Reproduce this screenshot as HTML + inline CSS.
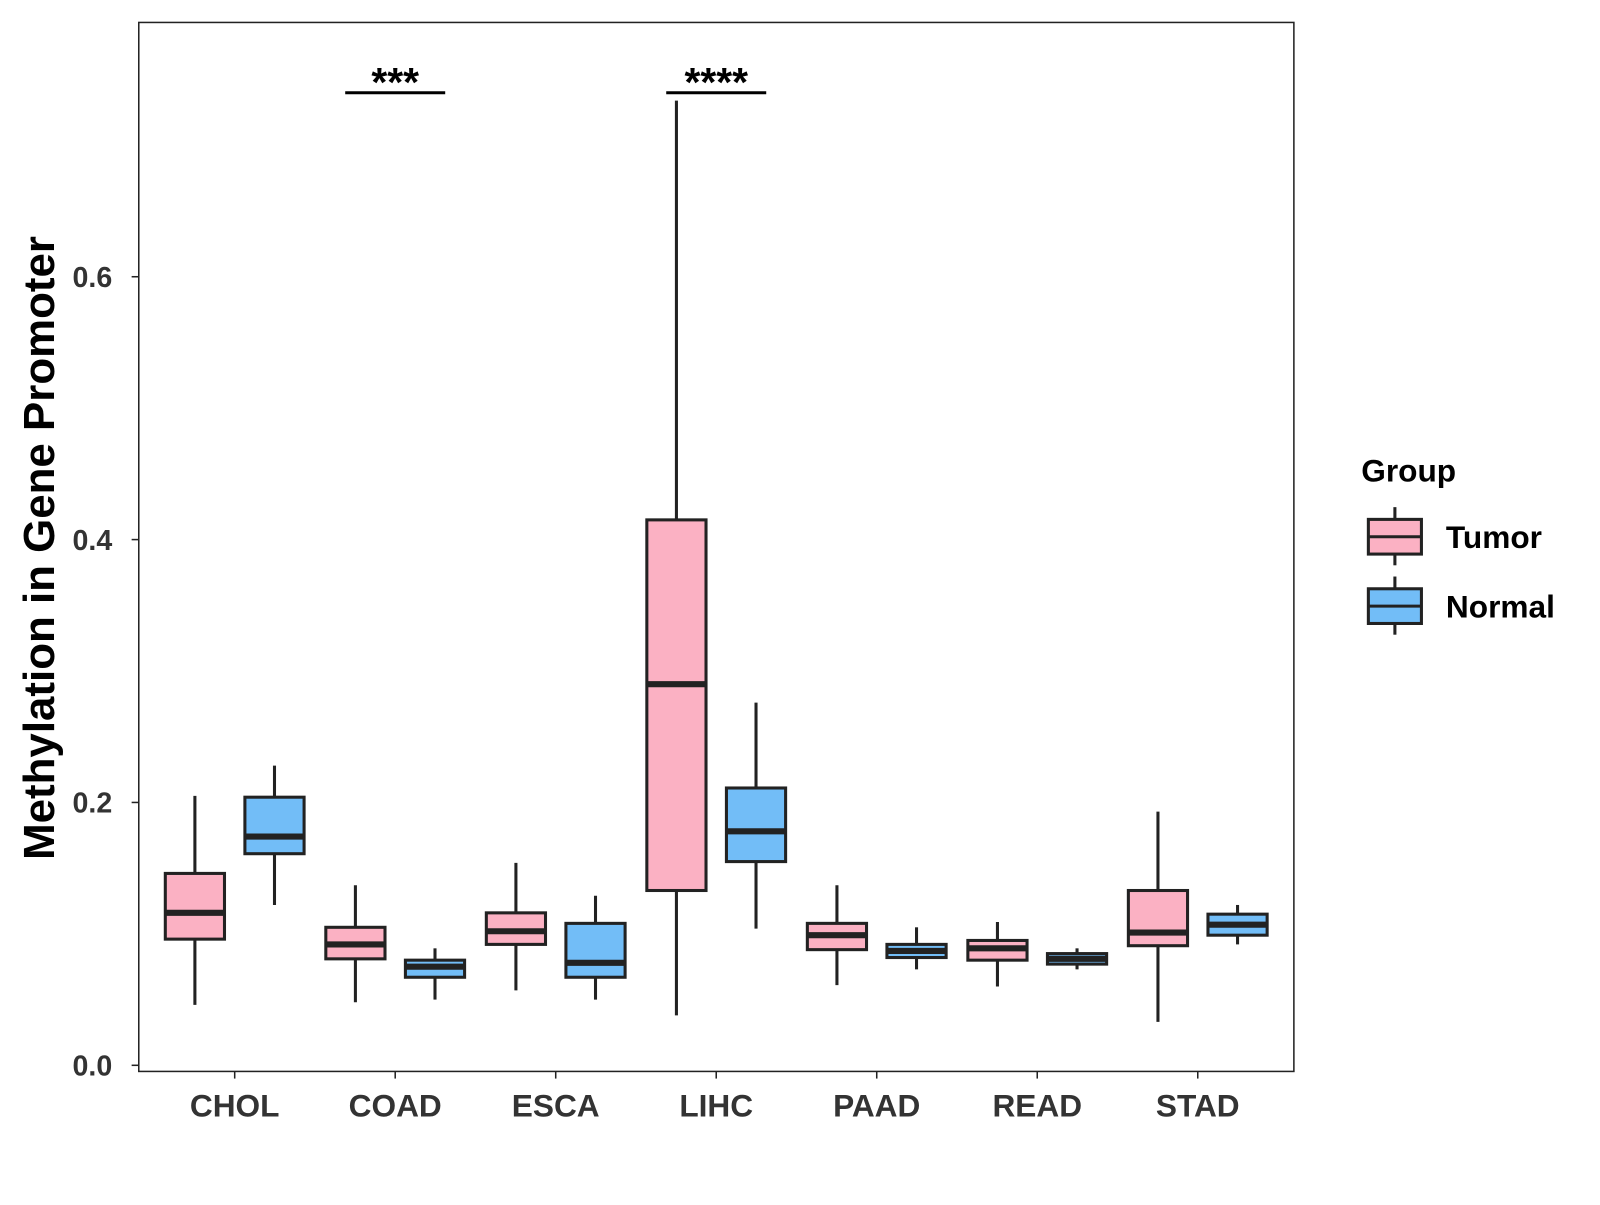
<!DOCTYPE html>
<html><head><meta charset="utf-8"><style>
body{margin:0;background:#fff;}
svg text{font-family:"Liberation Sans",sans-serif;font-weight:bold;}
</style></head><body>
<svg width="1600" height="1200" viewBox="0 0 1568 1176" xmlns="http://www.w3.org/2000/svg">
<rect x="136" y="22" width="1132" height="1028" fill="#fff" stroke="#222" stroke-width="1.5"/>
<g id="axes"></g><g id="marks"></g>
<text x="0" y="0" transform="translate(53,537) rotate(-90)" text-anchor="middle" font-size="43" fill="#000">Methylation in Gene Promoter</text>
<g>
<text x="1334" y="472" font-size="31" fill="#000">Group</text>
<g>
<line x1="1367" y1="497" x2="1367" y2="554" stroke="#222" stroke-width="3"/>
<rect x="1341" y="509" width="52" height="34" fill="#fbb1c3" stroke="#222" stroke-width="3"/>
<line x1="1341" y1="526" x2="1393" y2="526" stroke="#222" stroke-width="3"/>
<text x="1417" y="537" font-size="31" fill="#000">Tumor</text></g>
<g>
<line x1="1367" y1="565" x2="1367" y2="622" stroke="#222" stroke-width="3"/>
<rect x="1341" y="577" width="52" height="34" fill="#72bdf7" stroke="#222" stroke-width="3"/>
<line x1="1341" y1="594" x2="1393" y2="594" stroke="#222" stroke-width="3"/>
<text x="1417" y="605" font-size="31" fill="#000">Normal</text></g>
</g>
</svg>
<script>
const categories=["CHOL","COAD","ESCA","LIHC","PAAD","READ","STAD"];
const tumorLo=[0.046,0.048,0.057,0.038,0.061,0.060,0.033];
const tumorQ1=[0.096,0.081,0.092,0.133,0.088,0.080,0.091];
const tumorMed=[0.116,0.092,0.102,0.290,0.099,0.089,0.101];
const tumorQ3=[0.146,0.105,0.116,0.415,0.108,0.095,0.133];
const tumorHi=[0.205,0.137,0.154,0.734,0.137,0.109,0.193];
const normalLo=[0.122,0.050,0.050,0.104,0.073,0.073,0.092];
const normalQ1=[0.161,0.067,0.067,0.155,0.082,0.077,0.099];
const normalMed=[0.174,0.075,0.078,0.178,0.087,0.081,0.107];
const normalQ3=[0.204,0.080,0.108,0.211,0.092,0.085,0.115];
const normalHi=[0.228,0.089,0.129,0.276,0.105,0.089,0.122];
const yTicks=[0,0.2,0.4,0.6];
const yTickLabels=["0.0","0.2","0.4","0.6"];
const sigCats=["COAD","LIHC"];
const sigLabels=["***","****"];
const sigY=0.740;

const NS="http://www.w3.org/2000/svg";
const y=v=>1044-v*1288;
const x=i=>230+i*157.3;
function mk(tag,attrs,parent){const e=document.createElementNS(NS,tag);for(const k in attrs)e.setAttribute(k,attrs[k]);parent.appendChild(e);return e;}
const axes=document.getElementById('axes'),marks=document.getElementById('marks');
yTicks.forEach((t,i)=>{
  const g=mk('g',{},axes);
  
  
  mk('line',{x1:129,x2:136,y1:y(t),y2:y(t),stroke:'#222','stroke-width':1.5},g);
  const tx=mk('text',{x:110,y:y(t)+10,'text-anchor':'end','font-size':28,fill:'#333'},g);tx.textContent=yTickLabels[i];
});
categories.forEach((c,i)=>{
  const g=mk('g',{},axes);
  
  
  mk('line',{x1:x(i),x2:x(i),y1:1050,y2:1057,stroke:'#222','stroke-width':1.5},g);
  const tx=mk('text',{x:x(i),y:1094,'text-anchor':'middle','font-size':31,fill:'#333'},g);tx.textContent=c;
});
function box(cx,lo,q1,md,q3,hi,fill,name){
  const g=mk('g',{},marks);
  
  
  mk('line',{x1:cx,x2:cx,y1:y(hi),y2:y(lo),stroke:'#222','stroke-width':3},g);
  mk('rect',{x:cx-29,y:y(q3),width:58,height:y(q1)-y(q3),fill:fill,stroke:'#222','stroke-width':3},g);
  mk('line',{x1:cx-29,x2:cx+29,y1:y(md),y2:y(md),stroke:'#222','stroke-width':6},g);
}
categories.forEach((c,i)=>{
  box(x(i)-39,tumorLo[i],tumorQ1[i],tumorMed[i],tumorQ3[i],tumorHi[i],'#fbb1c3','box-tumor-'+c.toLowerCase());
  box(x(i)+39,normalLo[i],normalQ1[i],normalMed[i],normalQ3[i],normalHi[i],'#72bdf7','box-normal-'+c.toLowerCase());
});
sigCats.forEach((c,k)=>{
  const i=categories.indexOf(c);
  const g=mk('g',{},marks);
  
  
  mk('line',{x1:x(i)-49,x2:x(i)+49,y1:y(sigY),y2:y(sigY),stroke:'#000','stroke-width':3},g);
  const t=mk('text',{x:x(i),y:y(sigY)+3,'text-anchor':'middle','font-size':40,fill:'#000'},g);t.textContent=sigLabels[k];
});
</script>
</body></html>
